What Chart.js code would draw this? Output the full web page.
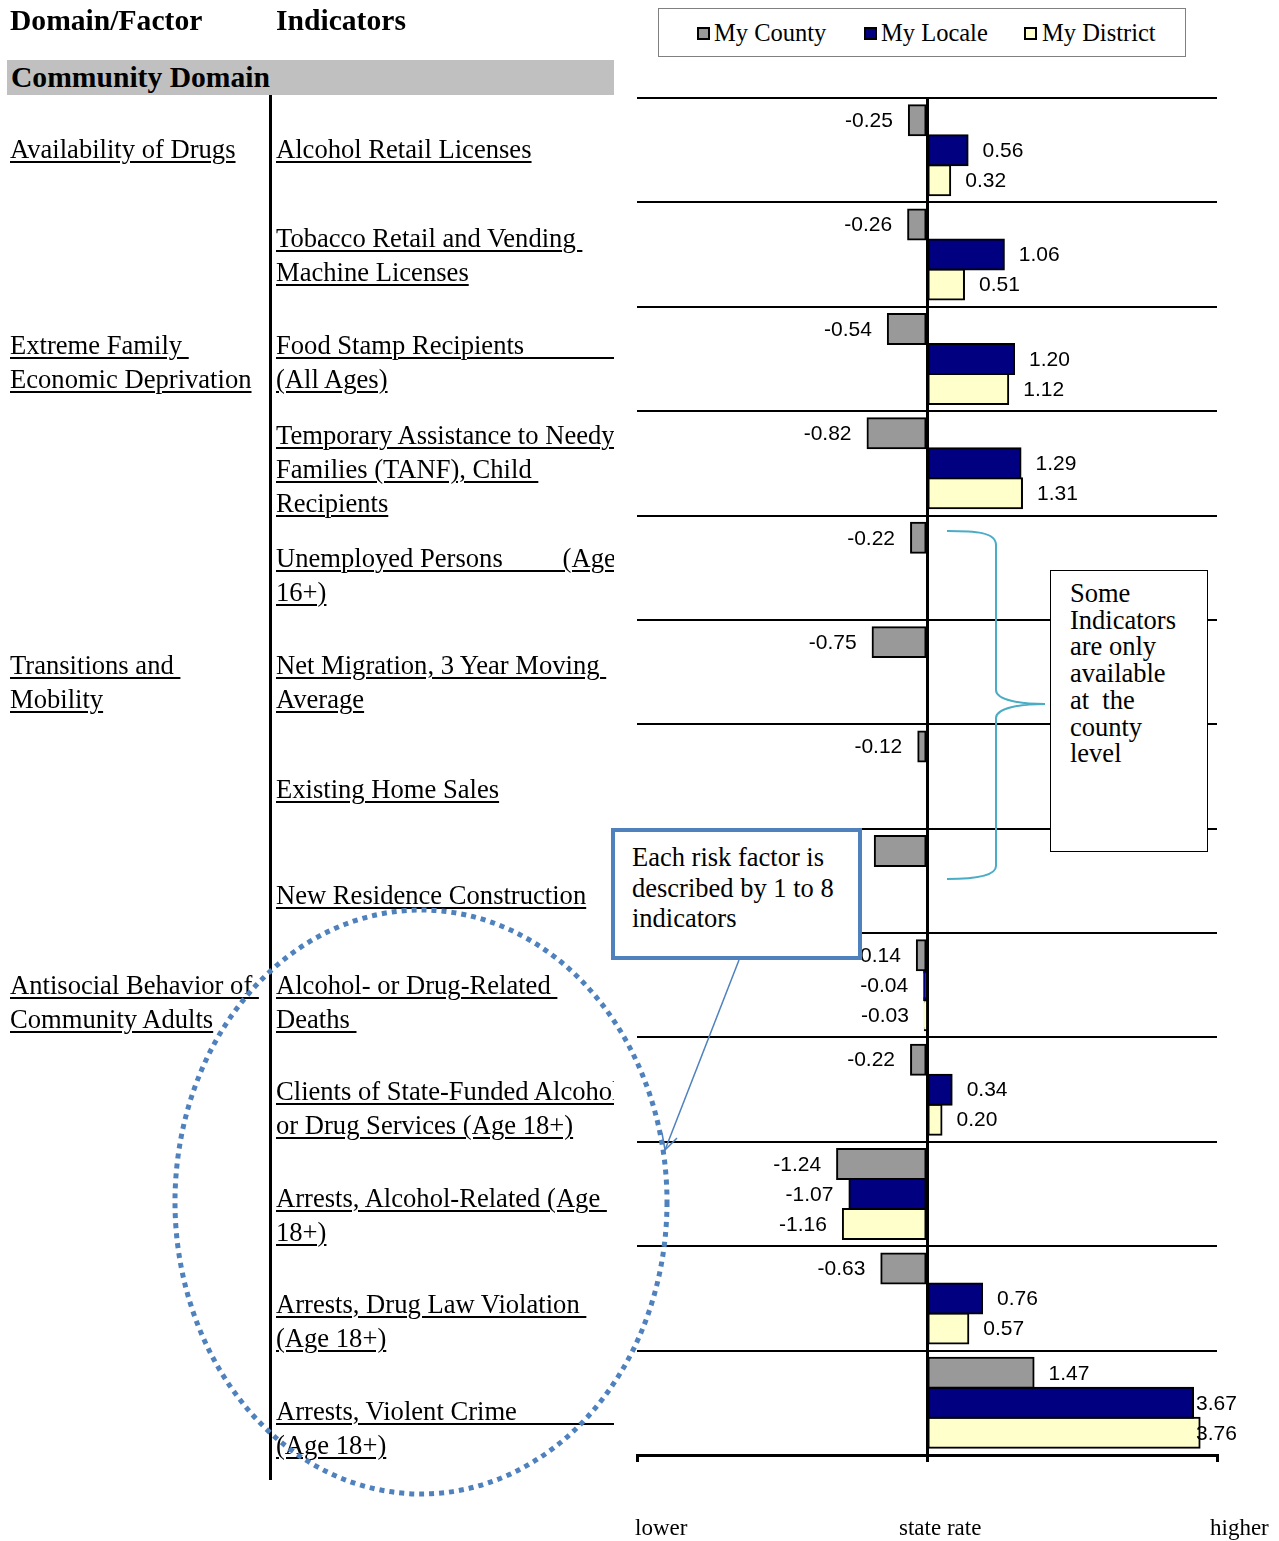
<!DOCTYPE html>
<html><head><meta charset="utf-8">
<script src="https://cdn.jsdelivr.net/npm/chart.js@4"></script>
<style>
html,body{margin:0;padding:0;}
body{width:1279px;height:1541px;overflow:hidden;background:#fff;position:relative;font-family:"Liberation Serif","Times New Roman",serif;color:#000;}
#c{position:absolute;left:0;top:0;z-index:1;}
.t{position:absolute;z-index:2;font-size:26.6px;line-height:34px;white-space:pre;overflow:hidden;text-decoration:underline;text-decoration-thickness:2px;text-underline-offset:3px;}
.f{left:10px;width:258px;}
.i{left:276px;width:338px;}
.h{position:absolute;z-index:2;font-weight:bold;font-size:29.6px;line-height:34px;white-space:pre;}
.lg{position:absolute;z-index:2;font-size:24.5px;line-height:28px;top:19px;white-space:pre;}
.mk{position:absolute;z-index:2;top:27px;width:13px;height:13px;box-sizing:border-box;border:2px solid #000;}
.bt{position:absolute;z-index:2;font-size:23px;line-height:26px;top:1515px;white-space:pre;}
.box{position:absolute;z-index:4;background:#fff;box-sizing:border-box;white-space:pre;font-size:26.5px;}
svg{position:absolute;left:0;top:0;z-index:3;pointer-events:none;}
</style></head>
<body>
<canvas id="c" width="1279" height="1541"></canvas>

<div class="h" style="left:10px;top:3px;">Domain/Factor</div>
<div class="h" style="left:276px;top:3px;">Indicators</div>
<div style="position:absolute;left:7px;top:60px;width:607px;height:35px;background:#C0C0C0;z-index:1;"></div>
<div class="h" style="left:11px;top:60px;">Community Domain</div>
<div style="position:absolute;left:269px;top:95px;width:3px;height:1385px;background:#000;z-index:2;"></div>

<div style="position:absolute;left:658px;top:8px;width:528px;height:49px;box-sizing:border-box;border:1px solid #808080;z-index:1;background:#fff;"></div>
<div class="mk" style="left:697px;background:#999999;"></div><div class="lg" style="left:714px;">My County</div>
<div class="mk" style="left:864px;background:#000080;"></div><div class="lg" style="left:881px;">My Locale</div>
<div class="mk" style="left:1024px;background:#FFFFCC;"></div><div class="lg" style="left:1042px;">My District</div>

<div class="t f" style="top:132px;">Availability of Drugs</div>
<div class="t f" style="top:328px;">Extreme Family 
Economic Deprivation</div>
<div class="t f" style="top:648px;">Transitions and 
Mobility</div>
<div class="t f" style="top:968px;">Antisocial Behavior of 
Community Adults</div>

<div class="t i" style="top:132px;">Alcohol Retail Licenses</div>
<div class="t i" style="top:221px;">Tobacco Retail and Vending 
Machine Licenses</div>
<div class="t i" style="top:328px;">Food Stamp Recipients                                        
(All Ages)</div>
<div class="t i" style="top:418px;">Temporary Assistance to Needy 
Families (TANF), Child 
Recipients</div>
<div class="t i" style="top:541px;">Unemployed Persons         (Age 
16+)</div>
<div class="t i" style="top:648px;">Net Migration, 3 Year Moving 
Average</div>
<div class="t i" style="top:772px;">Existing Home Sales</div>
<div class="t i" style="top:878px;">New Residence Construction</div>
<div class="t i" style="top:968px;">Alcohol- or Drug-Related 
Deaths </div>
<div class="t i" style="top:1074px;">Clients of State-Funded Alcohol 
or Drug Services (Age 18+)</div>
<div class="t i" style="top:1181px;">Arrests, Alcohol-Related (Age 
18+)</div>
<div class="t i" style="top:1287px;">Arrests, Drug Law Violation 
(Age 18+)</div>
<div class="t i" style="top:1394px;">Arrests, Violent Crime                                        
(Age 18+)</div>

<div class="bt" style="left:635px;">lower</div>
<div class="bt" style="left:899px;">state rate</div>
<div class="bt" style="left:1210px;">higher</div>

<svg width="1279" height="1541" viewBox="0 0 1279 1541">
  <ellipse cx="421" cy="1202" rx="246" ry="292" fill="none" stroke="#4F81BD" stroke-width="5" stroke-dasharray="5 5"/>
  <path d="M947,531 C975,531 996,532 996,545 L996,690 C996,700 1020,704 1045,704 C1020,704 996,708 996,718 L996,866 C996,876 975,879 947,879" fill="none" stroke="#4BACC6" stroke-width="2"/>
  <line x1="739" y1="960" x2="665" y2="1150" stroke="#4F81BD" stroke-width="1.5"/>
  <polyline points="662,1133 665,1150 677,1138" fill="none" stroke="#4F81BD" stroke-width="1.5"/>
</svg>

<div class="box" style="left:611px;top:828px;width:251px;height:132px;border:4px solid #4F81BD;padding:10px 0 0 17px;line-height:30.5px;">Each risk factor is
described by 1 to 8
indicators</div>
<div class="box" style="left:1050px;top:570px;width:158px;height:282px;border:1px solid #000;padding:9px 0 0 19px;line-height:26.7px;">Some
Indicators
are only
available
at  the
county
level</div>

<script>
const categories = [
  'Alcohol Retail Licenses',
  'Tobacco Retail and Vending Machine Licenses',
  'Food Stamp Recipients (All Ages)',
  'Temporary Assistance to Needy Families (TANF), Child Recipients',
  'Unemployed Persons (Age 16+)',
  'Net Migration, 3 Year Moving Average',
  'Existing Home Sales',
  'New Residence Construction',
  'Alcohol- or Drug-Related Deaths',
  'Clients of State-Funded Alcohol or Drug Services (Age 18+)',
  'Arrests, Alcohol-Related (Age 18+)',
  'Arrests, Drug Law Violation (Age 18+)',
  'Arrests, Violent Crime (Age 18+)'
];
const myCounty   = [-0.25, -0.26, -0.54, -0.82, -0.22, -0.75, -0.12, -0.72, -0.14, -0.22, -1.24, -0.63, 1.47];
const myLocale   = [ 0.56,  1.06,  1.20,  1.29,  null,  null,  null,  null, -0.04,  0.34, -1.07,  0.76, 3.67];
const myDistrict = [ 0.32,  0.51,  1.12,  1.31,  null,  null,  null,  null, -0.03,  0.20, -1.16,  0.57, 3.76];
const axisTicks  = [-4, 0, 4];

const valueLabels = {
  id: 'valueLabels',
  afterDatasetsDraw(chart) {
    const {ctx, chartArea} = chart;
    ctx.save();
    ctx.font = '21px "Liberation Sans", Arial, sans-serif';
    ctx.fillStyle = '#000';
    ctx.textBaseline = 'middle';
    chart.data.datasets.forEach((ds, di) => {
      const meta = chart.getDatasetMeta(di);
      meta.data.forEach((el, i) => {
        const v = ds.data[i];
        if (v === null || v === undefined) return;
        const txt = v.toFixed(2);
        if (v >= 0) {
          ctx.textAlign = 'left';
          const x = Math.min(el.x + 15, chartArea.right - 21);
          ctx.fillText(txt, x, el.y + 1);
        } else {
          ctx.textAlign = 'right';
          ctx.fillText(txt, el.x - 16, el.y + 1);
        }
      });
    });
    ctx.restore();
  }
};

const barCommon = {borderColor: '#000', borderWidth: 2, borderSkipped: false, inflateAmount: 1, categoryPercentage: 0.862, barPercentage: 1};

new Chart(document.getElementById('c'), {
  type: 'bar',
  data: {
    labels: categories,
    datasets: [
      Object.assign({label: 'My County', data: myCounty, backgroundColor: '#999999'}, barCommon),
      Object.assign({label: 'My Locale', data: myLocale, backgroundColor: '#000080'}, barCommon),
      Object.assign({label: 'My District', data: myDistrict, backgroundColor: '#FFFFCC'}, barCommon)
    ]
  },
  options: {
    indexAxis: 'y',
    responsive: false,
    animation: false,
    devicePixelRatio: 1,
    layout: {padding: {left: 637, right: 62, top: 98, bottom: 76}},
    plugins: {legend: {display: false}, tooltip: {enabled: false}},
    scales: {
      x: {
        type: 'linear', min: -4, max: 4,
        afterBuildTicks: s => { s.ticks = axisTicks.map(v => ({value: v})); },
        ticks: {display: false},
        grid: {
          color: c => (c.tick && c.tick.value === 0) ? '#000' : 'rgba(0,0,0,0)',
          tickColor: '#000', lineWidth: 3, tickLength: 7, drawTicks: true
        },
        border: {display: true, color: '#000', width: 3},
        afterFit: s => { s.height = 10; }
      },
      y: {
        type: 'category',
        ticks: {display: false},
        grid: {color: '#000', lineWidth: 2, offset: true, drawTicks: false},
        border: {display: false},
        afterFit: s => { s.width = 0; }
      }
    }
  },
  plugins: [valueLabels]
});
</script>
</body></html>
